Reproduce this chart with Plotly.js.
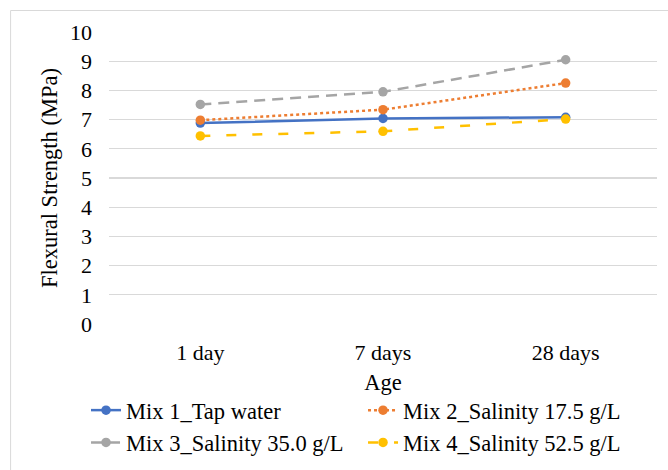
<!DOCTYPE html>
<html>
<head>
<meta charset="utf-8">
<script src="https://cdn.plot.ly/plotly-3.0.1.min.js"></script>
<style>html,body{margin:0;padding:0;background:#fff;}#chart{width:668px;height:470px;}</style>
</head>
<body>
<div id="chart"></div>
<script>
const categories = ["1 day", "7 days", "28 days"];
const seriesNames = ["Mix 1_Tap water", "Mix 2_Salinity 17.5 g/L", "Mix 3_Salinity 35.0 g/L", "Mix 4_Salinity 52.5 g/L"];
const mix1 = [6.88, 7.04, 7.08];
const mix2 = [6.98, 7.34, 8.25];
const mix3 = [7.52, 7.95, 9.05];
const mix4 = [6.44, 6.60, 7.02];
const yTicks = [0, 1, 2, 3, 4, 5, 6, 7, 8, 9, 10];

const colors = ["#4472C4", "#ED7D31", "#A5A5A5", "#FFC000"];
const dashes = ["solid", "dot", "11px,7px", "10px,16px"];
const values = [mix1, mix2, mix3, mix4];

const traces = values.map((v, i) => ({
  type: "scatter",
  mode: "lines+markers",
  x: categories,
  y: v,
  name: seriesNames[i],
  line: {color: colors[i], width: 2.5, dash: dashes[i]},
  marker: {color: colors[i], size: 9.5, symbol: "circle"}
}));

const L = 109, R = 657.5, T = 32, B = 324, W = 668, H = 470;
const fam = "Times New Roman, Liberation Serif, serif";
const tickFont = {family: fam, size: 22, color: "#000"};
const titleFont = {family: fam, size: 22.5, color: "#000"};

const layout = {
  width: W, height: H,
  margin: {l: L, r: W - R, t: T, b: H - B, pad: 0, autoexpand: false},
  paper_bgcolor: "#fff", plot_bgcolor: "#fff",
  font: tickFont,
  showlegend: true,
  xaxis: {
    type: "category",
    range: [-0.5, 2.5],
    automargin: false,
    showgrid: false, zeroline: false, showline: false,
    ticks: "", ticklabelstandoff: 13,
    tickfont: tickFont,
    title: {text: "Age", font: titleFont, standoff: 10}
  },
  yaxis: {
    range: [0, 10],
    tickvals: yTicks,
    automargin: false,
    showgrid: true, gridcolor: "#d9d9d9", gridwidth: 1.3,
    zeroline: false, showline: false,
    ticks: "", ticklabelstandoff: 16,
    tickfont: tickFont,
    title: {text: "Flexural Strength (MPa)", font: titleFont, standoff: 6}
  },
  legend: {
    orientation: "h",
    x: (86 - L) / (R - L), xanchor: "left",
    y: (B - 389) / (B - T), yanchor: "top",
    entrywidth: 232, entrywidthmode: "pixels",
    font: titleFont,
    itemwidth: 30,
    tracegroupgap: 0
  },
  shapes: [{
    type: "rect", xref: "paper", yref: "paper",
    x0: (10.5 - L) / (R - L), x1: (680 - L) / (R - L),
    y0: (B - 480) / (B - T), y1: (B - 10.5) / (B - T),
    line: {color: "#d9d9d9", width: 1}, fillcolor: "rgba(0,0,0,0)", layer: "below"
  }]
};

Plotly.newPlot("chart", traces, layout, {displayModeBar: false, staticPlot: true});
</script>
</body>
</html>
